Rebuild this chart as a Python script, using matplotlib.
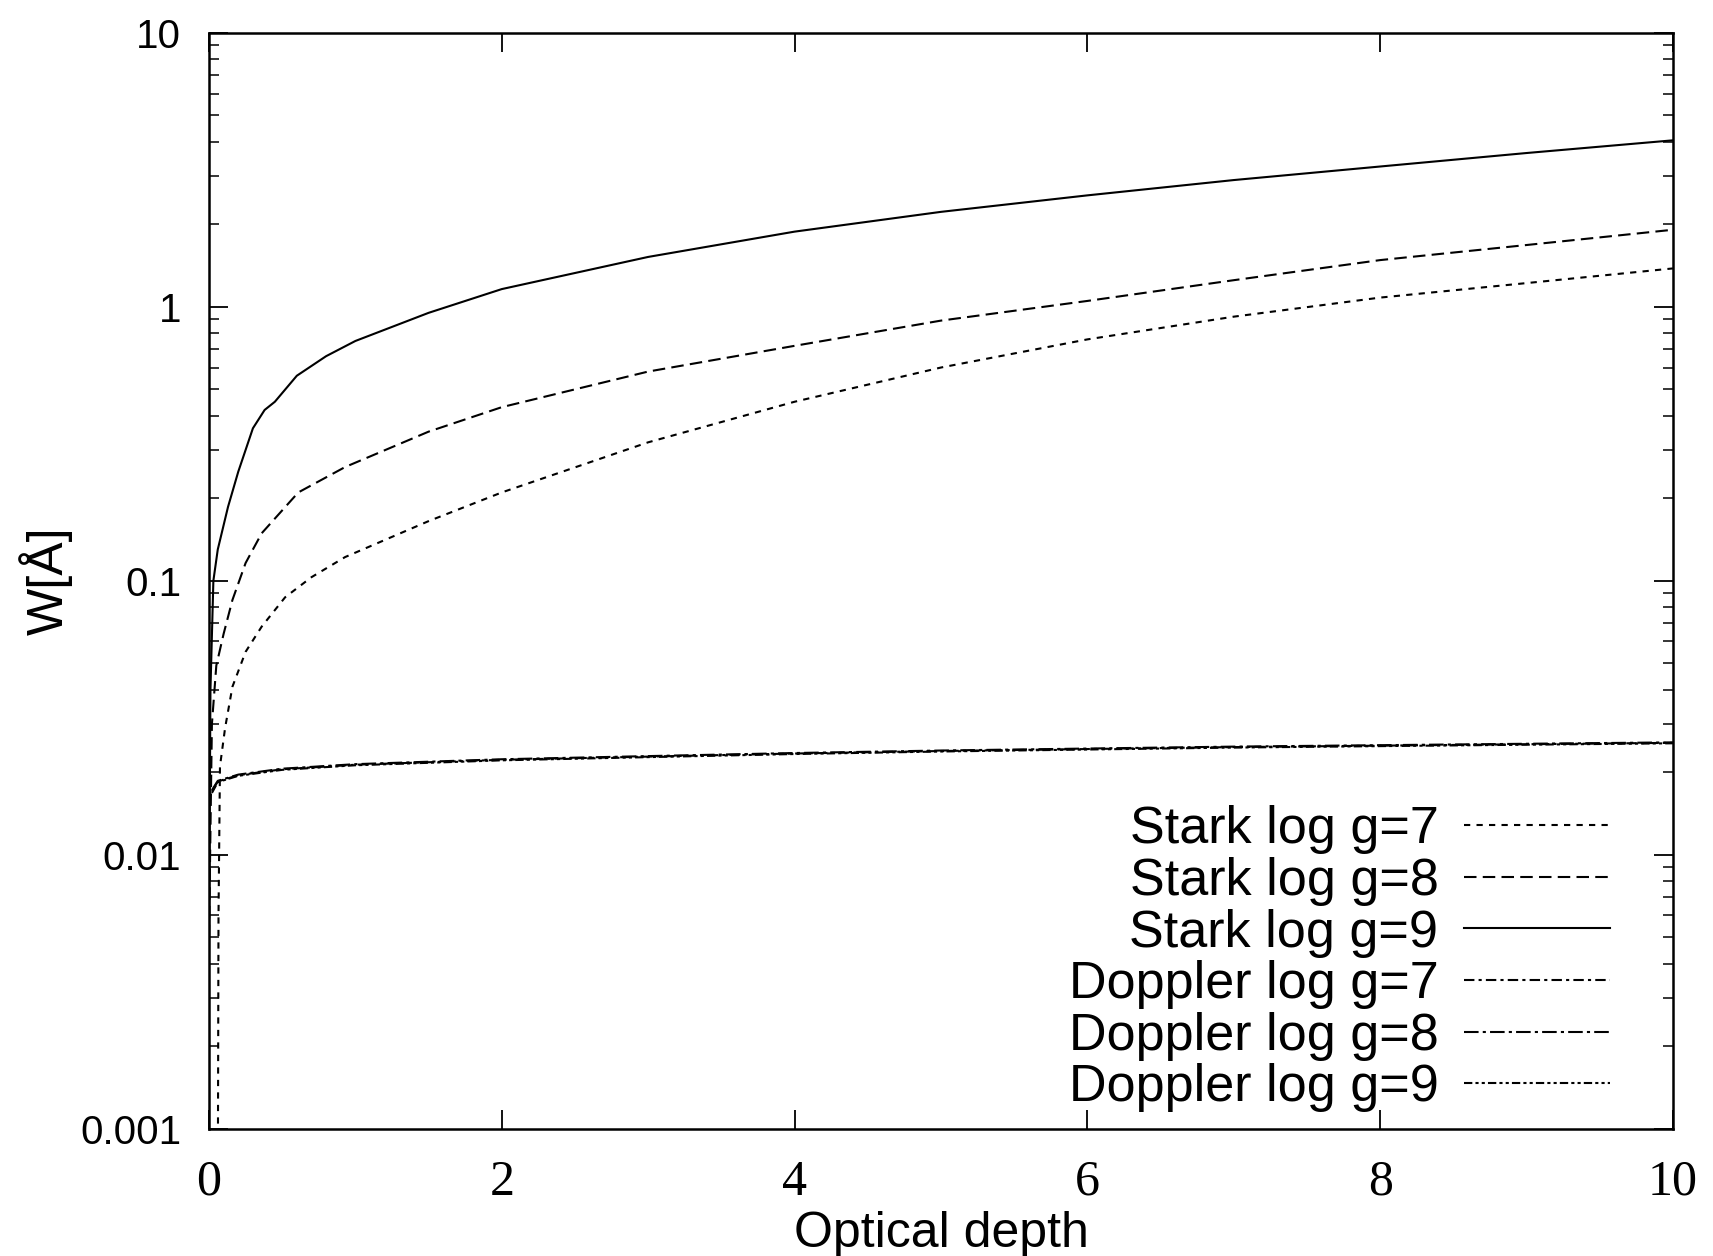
import matplotlib
matplotlib.use('Agg')
import matplotlib.pyplot as plt
import numpy as np

# Stark broadening curves
stark7_x = [0.06, 0.065, 0.075, 0.11, 0.16, 0.25, 0.36, 0.52, 0.7, 0.93, 1.5, 2, 3, 4, 5, 6, 7, 8, 9, 10]
stark7_w = [0.0005, 0.006, 0.021, 0.029, 0.041, 0.055, 0.068, 0.087, 0.103, 0.122, 0.165, 0.21, 0.32, 0.45,
            0.6, 0.76, 0.92, 1.08, 1.22, 1.38]

stark8_x = [0, 0.02, 0.05, 0.1, 0.16, 0.25, 0.36, 0.61, 0.93, 1.5, 2, 3, 4, 5, 6, 7, 8, 9, 10]
stark8_w = [0.005, 0.03, 0.049, 0.064, 0.085, 0.116, 0.149, 0.21, 0.26, 0.35, 0.43, 0.58, 0.72, 0.89,
            1.05, 1.25, 1.48, 1.68, 1.91]

stark9_x = [0, 0.01, 0.03, 0.06, 0.13, 0.2, 0.3, 0.38, 0.45, 0.6, 0.8, 1.0, 1.5, 2, 3, 4, 5, 6, 7, 8, 9, 10]
stark9_w = [0.005, 0.04, 0.1, 0.13, 0.186, 0.25, 0.36, 0.42, 0.45, 0.56, 0.66, 0.75, 0.95, 1.16, 1.52, 1.88,
            2.22, 2.55, 2.9, 3.25, 3.64, 4.05]

# Doppler curves, almost on top of each other
doppler_x = [0.02, 0.06, 0.2, 0.5, 1, 2, 3, 4, 5, 6, 7, 8, 9, 10]
doppler7_w = [0.017, 0.0185, 0.0195, 0.0205, 0.0213, 0.0222, 0.0228, 0.0234, 0.0239, 0.0243, 0.0247, 0.025, 0.0253, 0.0256]
doppler8_w = [0.0172, 0.0186, 0.0196, 0.0206, 0.0214, 0.0223, 0.0229, 0.0235, 0.024, 0.0244, 0.0248, 0.0251, 0.0254, 0.0257]
doppler9_w = [0.0168, 0.0184, 0.0194, 0.0204, 0.0212, 0.0221, 0.0227, 0.0233, 0.0238, 0.0242, 0.0246, 0.0249, 0.0252, 0.0255]

x_ticks = [0, 2, 4, 6, 8, 10]
y_ticks = [0.001, 0.01, 0.1, 1, 10]
y_ticklabels = ['0.001', '0.01', '0.1', '1', '10']

plt.rcParams['font.family'] = 'Liberation Sans'

fig = plt.figure(figsize=(17.13, 12.56), dpi=100)
ax = fig.add_axes([0.122, 0.1014, 0.8546, 0.8725])

lw = 1.5
ax.plot(stark7_x, stark7_w, color='black', lw=lw, dashes=(3, 3), label='Stark log g=7')
ax.plot(stark8_x, stark8_w, color='black', lw=lw, dashes=(6, 3), label='Stark log g=8')
ax.plot(stark9_x, stark9_w, color='black', lw=lw, label='Stark log g=9')
ax.plot(doppler_x, doppler7_w, color='black', lw=lw, dashes=(5, 2, 1.5, 2), label='Doppler log g=7')
ax.plot(doppler_x, doppler8_w, color='black', lw=lw, dashes=(7, 2, 1.5, 2), label='Doppler log g=8')
ax.plot(doppler_x, doppler9_w, color='black', lw=lw, dashes=(4, 1.5, 1.5, 1.5, 1.5, 1.5), label='Doppler log g=9')

ax.set_yscale('log')
ax.set_xlim(0, 10)
ax.set_ylim(0.001, 10)

ax.set_xticks(x_ticks)
ax.set_xticklabels([str(t) for t in x_ticks], fontfamily='Liberation Serif', fontsize=36)
ax.set_yticks(y_ticks)
ax.set_yticklabels(y_ticklabels, fontsize=29)
ax.yaxis.set_minor_locator(matplotlib.ticker.LogLocator(base=10, subs=np.arange(2, 10)))
ax.yaxis.set_minor_formatter(matplotlib.ticker.NullFormatter())

ax.tick_params(which='major', direction='in', length=14, width=1.3, top=True, right=True)
ax.tick_params(which='minor', direction='in', length=7, width=1.1, top=True, right=True)
ax.tick_params(axis='x', pad=22)
ax.tick_params(axis='y', pad=20)
for sp in ax.spines.values():
    sp.set_linewidth(1.8)

ax.set_xlabel('Optical depth', fontsize=36, labelpad=4)
ax.set_ylabel('W[Å]', fontsize=36, labelpad=5)

ax.legend(loc='lower right', bbox_to_anchor=(0.975, -0.009), frameon=False, fontsize=37.5,
          markerfirst=False, handlelength=2.8, handletextpad=0.5, labelspacing=0.05, borderpad=0)

plt.savefig('out.png', dpi=100)
